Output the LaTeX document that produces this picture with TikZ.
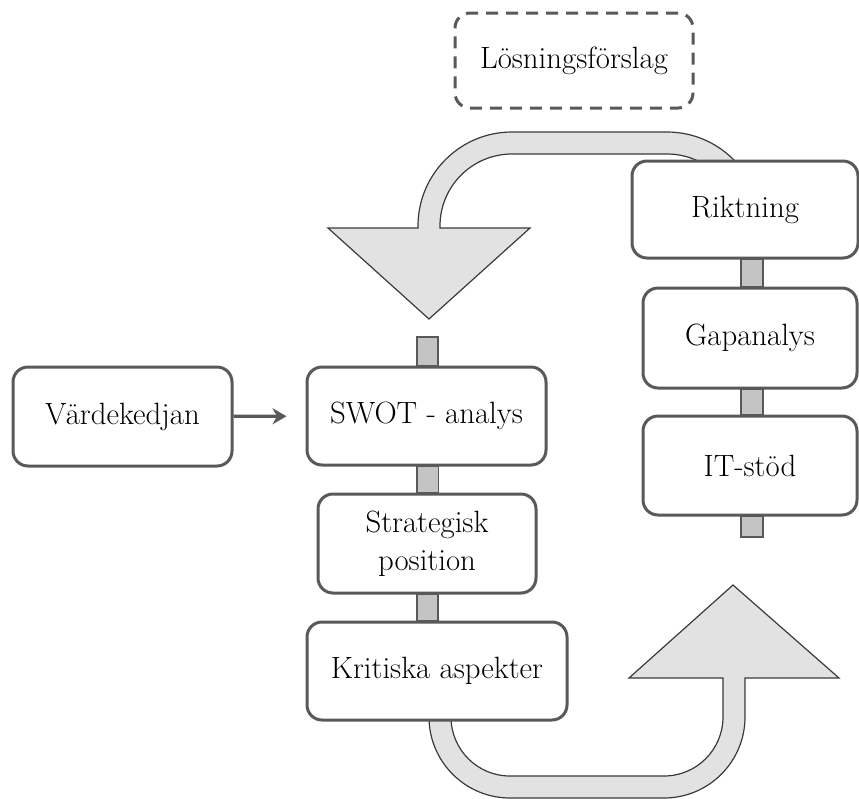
\documentclass[tikz,border=0pt]{standalone}
\usepackage{tikz}
\usetikzlibrary{arrows.meta,calc,backgrounds}
\definecolor{edge}{HTML}{595959}
\definecolor{outline}{HTML}{3A3A3A}
\definecolor{shaft}{HTML}{E2E2E2}
\definecolor{barfill}{HTML}{C4C4C4}
\tikzset{
  box/.style={draw=edge, line width=1.5pt, rounded corners=7.5pt, fill=white, align=center,
    inner sep=0pt, font=\fontsize{15.4}{19}\selectfont},
  dashbox/.style={box, dashed, dash pattern=on 6pt off 4pt},
  bar/.style={draw=edge, line width=0.8pt, fill=barfill},
  bigarrow/.style={draw=outline, line width=0.6pt, fill=shaft},
  feed/.style={-{Stealth[length=7pt,width=8pt]}, line width=1.6pt, draw=edge, shorten >=9.5pt}
}

\begin{document}
\begin{tikzpicture}[x=0.5pt, y=-0.5pt]
  \useasboundingbox (0,0) rectangle (859,799);
  % left column
  \node[box, minimum width=109.5pt, minimum height=49.5pt] (vard)  at (122.5,416.5) {Värdekedjan};
  \node[box, minimum width=119.5pt, minimum height=49pt]   (swot)  at (426.5,416)   {SWOT - analys};
  \node[box, minimum width=109pt,   minimum height=49.5pt] (strat) at (427,543.5)   {Strategisk\\position};
  \node[box, minimum width=130pt,   minimum height=49pt]   (krit)  at (437,671)     {Kritiska aspekter};
  % right column
  \node[dashbox, minimum width=119pt, minimum height=47.5pt] (losn) at (574,60.5) {Lösningsförslag};
  \node[box, minimum width=113pt, minimum height=48.5pt] (rikt) at (745,209.5) {Riktning};
  \node[box, minimum width=107pt, minimum height=50pt]   (gap)  at (750,338)   {Gapanalys};
  \node[box, minimum width=107pt, minimum height=49.5pt] (itst) at (750,465.5) {IT-stöd};
  \coordinate (swottop) at (427.5,337);
  \coordinate (itend) at (752,537);

  \draw[feed] (vard) -- (swot);

  \begin{scope}[on background layer]
    \draw[bar] ($(swottop)+(-10.5,0)$) rectangle ($(swot.north)+(11.5,0)$);
    \draw[bar] ($(swot.south)+(-9.5,0)$) rectangle ($(strat.north)+(11.5,0)$);
    \draw[bar] ($(strat.south)+(-10,0)$) rectangle ($(krit.north -| strat.north)+(11,0)$);
    \draw[bar] ($(rikt.south -| gap.north)+(-9,0)$) rectangle ($(gap.north)+(13,0)$);
    \draw[bar] ($(gap.south)+(-9,0)$) rectangle ($(itst.north)+(13,0)$);
    \draw[bar] ($(itst.south)+(-9,0)$) rectangle ($(itend)+(11,0)$);
    % arrow back from Riktning
    \draw[bigarrow] (418,228) -- (418,226) arc[start angle=180, end angle=270, radius=94]
      -- (667,132) arc[start angle=270, end angle=360, radius=94]
      -- (739,226) arc[start angle=0, end angle=-90, radius=72]
      -- (512,154) arc[start angle=270, end angle=180, radius=72]
      -- (440,228) -- (530,228) -- (429,319) -- (328,228) -- cycle;
    % arrow up from Kritiska aspekter
    \draw[bigarrow] (429,700) -- (429,717) arc[start angle=180, end angle=90, radius=81]
      -- (664,798) arc[start angle=90, end angle=0, radius=81]
      -- (745,678) -- (839,678) -- (733,585) -- (629,678) -- (723,678)
      -- (723,717) arc[start angle=0, end angle=90, radius=59]
      -- (510,776) arc[start angle=90, end angle=180, radius=59]
      -- (451,700) -- cycle;
  \end{scope}
\end{tikzpicture}
\end{document}
